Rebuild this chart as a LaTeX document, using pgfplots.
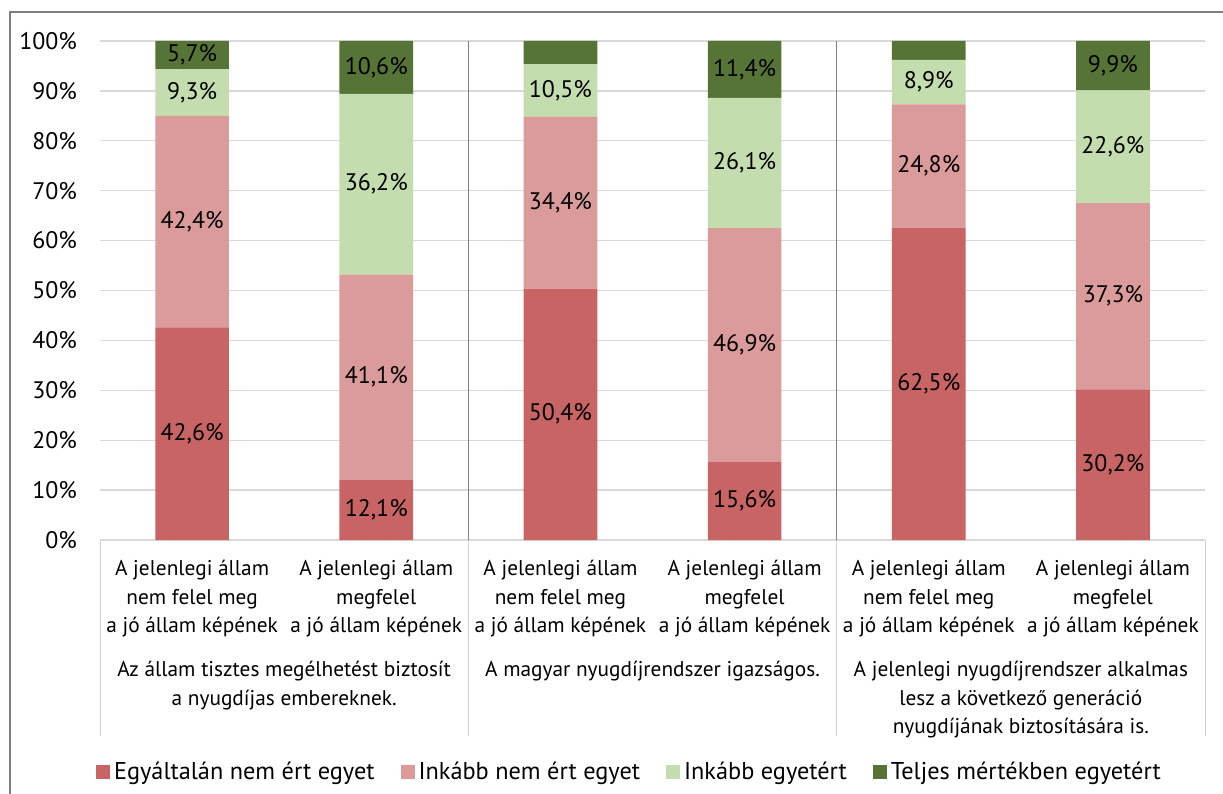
\documentclass[border=0pt]{standalone}
\usepackage{pgfplots}
\pgfplotsset{compat=1.18}
\usepackage{pgfplotstable}
\usepackage{fontspec}
\setmainfont{PT Sans}

\definecolor{c1}{HTML}{C86464}
\definecolor{c2}{HTML}{DC9B9B}
\definecolor{c3}{HTML}{C4DDAE}
\definecolor{c4}{HTML}{577437}
\definecolor{gridc}{HTML}{D9D9D9}
\definecolor{sepc}{HTML}{808080}
\definecolor{boxc}{HTML}{D0D0D0}

% x: bar position, v1..v4: shares of the four answers
\pgfplotstableread{
x v1 v2 v3 v4
0 42.6 42.4 9.3  5.7
1 12.1 41.1 36.2 10.6
2 50.4 34.4 10.5 4.7
3 15.6 46.9 26.1 11.4
4 62.5 24.8 8.9  3.8
5 30.2 37.3 22.6 9.9
}\data

\pgfplotsset{
  frame/.style={at={(50bp,127bp)}, anchor=south west,
    scale only axis, width=552.5bp, height=249.5bp,
    xmin=-0.5, xmax=5.5, ymin=0, ymax=100, clip=false},
  lab/.style={draw=none, mark=none, point meta=explicit,
    nodes near coords={\pgfmathprintnumber[fixed,fixed zerofill,precision=1,use comma,assume math mode=true]{\pgfplotspointmeta}\%},
    every node near coord/.append style={anchor=center, font=\fontsize{12}{14}\selectfont}},
}

\begin{document}
\begin{tikzpicture}
\path[use as bounding box] (0,0) rectangle (611.5bp,397bp);
\begin{axis}[
    frame,
    ybar stacked, bar width=0.4,
    axis line style={draw=none},
    major tick length=0pt,
    ytick={0,10,...,100},
    yticklabel={\pgfmathprintnumber{\tick}\%},
    /pgf/number format/assume math mode=true,
    ymajorgrids, grid style={gridc, line width=0.7pt},
    tick label style={font=\fontsize{12}{14}\selectfont},
    yticklabel style={xshift=-8bp},
    xtick={0,...,5},
    xticklabels={
      A jelenlegi állam\\nem felel meg\\a jó állam képének,
      A jelenlegi állam\\megfelel\\a jó állam képének,
      A jelenlegi állam\\nem felel meg\\a jó állam képének,
      A jelenlegi állam\\megfelel\\a jó állam képének,
      A jelenlegi állam\\nem felel meg\\a jó állam képének,
      A jelenlegi állam\\megfelel\\a jó állam képének},
    xticklabel style={font=\fontsize{10.7}{14.4}\selectfont, align=center, yshift=-6.5bp},
    legend columns=4,
    legend style={draw=none, fill=none, at={(0.48,-0.465)}, anchor=center,
      font=\fontsize{12.2}{14}\selectfont,
      /tikz/every even column/.append style={column sep=11bp}},
    legend image code/.code={\draw[#1, draw=none] (0bp,-3.5bp) rectangle (7bp,3.5bp);},
]
\addplot[fill=c1, draw=none] table[x=x, y=v1] {\data};
\addplot[fill=c2, draw=none] table[x=x, y=v2] {\data};
\addplot[fill=c3, draw=none] table[x=x, y=v3] {\data};
\addplot[fill=c4, draw=none] table[x=x, y=v4] {\data};
\legend{Egyáltalán nem ért egyet, Inkább nem ért egyet, Inkább egyetért, Teljes mértékben egyetért}

% group separators and the box under the plot
\draw[sepc, line width=0.6pt] (axis cs:1.5,100) -- (axis cs:1.5,0);
\draw[sepc, line width=0.6pt] (axis cs:3.5,100) -- (axis cs:3.5,0);
\draw[boxc] (axis cs:-0.5,0) -- ++(0pt,-98bp);
\draw[boxc] (axis cs:1.5,0) -- ++(0pt,-98bp);
\draw[boxc] (axis cs:3.5,0) -- ++(0pt,-98bp);
\draw[boxc] (axis cs:5.5,0) -- ++(0pt,-98bp);

\node[anchor=north, align=center, font=\fontsize{10.7}{14.4}\selectfont]
  at ([yshift=-57bp]axis cs:0.5,0) {Az állam tisztes megélhetést biztosít\\a nyugdíjas embereknek.};
\node[anchor=north, align=center, font=\fontsize{10.7}{14.4}\selectfont]
  at ([yshift=-57bp]axis cs:2.5,0) {A magyar nyugdíjrendszer igazságos.};
\node[anchor=north, align=center, font=\fontsize{10.7}{14.4}\selectfont]
  at ([yshift=-57bp]axis cs:4.5,0) {A jelenlegi nyugdíjrendszer alkalmas\\lesz a következő generáció\\nyugdíjának biztosítására is.};
\end{axis}

% value labels, centred in each segment
\begin{axis}[frame, hide axis]
\addplot[lab] table[x=x, y expr=\thisrow{v1}/2, meta=v1] {\data};
\addplot[lab] table[x=x, y expr=\thisrow{v1}+\thisrow{v2}/2, meta=v2] {\data};
\addplot[lab] table[x=x, y expr=\thisrow{v1}+\thisrow{v2}+\thisrow{v3}/2, meta=v3] {\data};
\addplot[lab, skip coords between index={2}{3}, skip coords between index={4}{5}]
  table[x=x, y expr=\thisrow{v1}+\thisrow{v2}+\thisrow{v3}+\thisrow{v4}/2, meta=v4] {\data};
\end{axis}

% outer frame of the chart
\draw[gray, line width=0.8pt] (5bp,-5bp) -- (5bp,391bp) -- (620bp,391bp);
\end{tikzpicture}
\end{document}
